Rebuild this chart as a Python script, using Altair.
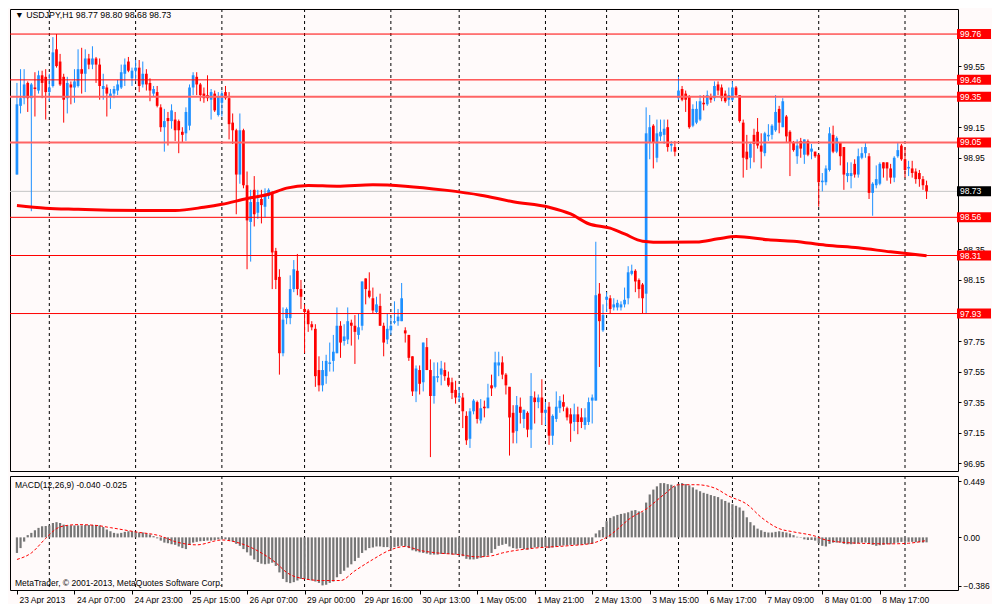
import altair as alt
import pandas as pd

# ---------------- data ----------------
SYMBOL = "USDJPY,H1"
LAST_BAR = [98.77, 98.80, 98.68, 98.73]
MACD_LAST = [-0.040, -0.025]

OPEN = [
 98.84, 99.29, 99.34, 99.44, 99.34, 99.41, 99.39, 99.49, 99.48, 99.38,
 99.42, 99.66, 99.58, 99.48, 99.34, 99.43, 99.41, 99.42, 99.53, 99.50,
 99.60, 99.56, 99.60, 99.56, 99.40, 99.41, 99.35, 99.37, 99.39, 99.41,
 99.50, 99.58, 99.47, 99.52, 99.54, 99.43, 99.50, 99.44, 99.37, 99.38,
 99.28, 99.15, 99.21, 99.19, 99.20, 99.19, 99.12, 99.11, 99.16, 99.41,
 99.48, 99.43, 99.37, 99.36, 99.33, 99.37, 99.23, 99.31, 99.38, 99.34,
 99.18, 99.13, 98.84, 99.13, 98.77, 98.53, 98.74, 98.59, 98.68, 98.63,
 98.70, 98.72, 98.34, 98.17, 97.67, 97.90, 97.90, 98.09, 98.21, 98.09,
 97.96, 97.95, 97.86, 97.83, 97.56, 97.46, 97.52, 97.60, 97.62, 97.67,
 97.85, 97.75, 97.76, 97.87, 97.85, 97.79, 97.85, 98.16, 98.08, 98.03,
 97.94, 97.98, 97.85, 97.76, 97.82, 97.87, 97.88, 97.88, 97.82, 97.79,
 97.65, 97.42, 97.56, 97.48, 97.71, 97.56, 97.39, 97.51, 97.53, 97.56,
 97.51, 97.48, 97.43, 97.38, 97.38, 97.26, 97.11, 97.29, 97.35, 97.23,
 97.32, 97.31, 97.46, 97.45, 97.59, 97.61, 97.53, 97.45, 97.28, 97.16,
 97.32, 97.24, 97.28, 97.17, 97.38, 97.35, 97.38, 97.28, 97.32, 97.13,
 97.24, 97.31, 97.35, 97.31, 97.27, 97.22, 97.27, 97.25, 97.20, 97.22,
 97.36, 97.36, 98.06, 97.82, 98.02, 98.03, 97.97, 97.97, 97.97, 97.99,
 98.03, 98.19, 98.21, 98.15, 98.12, 98.06, 99.05, 99.16, 98.95, 99.09,
 99.10, 99.15, 99.03, 99.02, 99.34, 99.40, 99.37, 99.35, 99.16, 99.18,
 99.20, 99.31, 99.30, 99.35, 99.34, 99.43, 99.41, 99.37, 99.33, 99.33,
 99.41, 99.36, 99.18, 98.99, 98.95, 99.10, 99.12, 99.03, 98.98, 99.09,
 99.10, 99.13, 99.27, 99.15, 99.22, 99.12, 99.05, 98.96, 99.06, 98.97,
 99.06, 98.99, 98.99, 98.97, 98.79, 98.79, 98.87, 99.10, 98.99, 99.05,
 99.02, 98.83, 98.83, 98.91, 98.84, 98.95, 98.98, 98.96, 98.72, 98.77,
 98.78, 98.92, 98.92, 98.88, 98.82, 98.96, 99.03, 98.94, 98.88, 98.88,
 98.86, 98.85, 98.81, 98.77]

CLOSE = [
 99.30, 99.34, 99.43, 99.34, 99.43, 99.40, 99.49, 99.44, 99.38, 99.41,
 99.64, 99.55, 99.43, 99.33, 99.44, 99.41, 99.45, 99.53, 99.50, 99.60,
 99.56, 99.60, 99.56, 99.42, 99.42, 99.37, 99.37, 99.40, 99.43, 99.51,
 99.56, 99.52, 99.52, 99.54, 99.42, 99.50, 99.43, 99.39, 99.40, 99.29,
 99.15, 99.19, 99.19, 99.26, 99.13, 99.13, 99.10, 99.25, 99.41, 99.49,
 99.43, 99.36, 99.34, 99.34, 99.38, 99.26, 99.35, 99.37, 99.34, 99.17,
 99.13, 98.84, 99.13, 98.77, 98.54, 98.66, 98.58, 98.66, 98.64, 98.70,
 98.74, 98.33, 98.15, 97.67, 97.89, 97.96, 98.09, 98.22, 98.09, 98.04,
 97.94, 97.86, 97.84, 97.52, 97.46, 97.56, 97.62, 97.61, 97.68, 97.85,
 97.74, 97.78, 97.88, 97.85, 97.81, 97.84, 98.14, 98.09, 98.04, 97.95,
 97.99, 97.85, 97.74, 97.83, 97.85, 97.88, 97.91, 98.03, 97.80, 97.64,
 97.42, 97.57, 97.47, 97.74, 97.56, 97.39, 97.52, 97.52, 97.57, 97.52,
 97.46, 97.41, 97.38, 97.39, 97.29, 97.10, 97.29, 97.36, 97.24, 97.31,
 97.31, 97.38, 97.44, 97.61, 97.61, 97.53, 97.46, 97.25, 97.15, 97.33,
 97.28, 97.30, 97.17, 97.39, 97.35, 97.38, 97.28, 97.30, 97.13, 97.26,
 97.32, 97.36, 97.32, 97.25, 97.21, 97.27, 97.22, 97.22, 97.25, 97.35,
 97.38, 98.05, 97.88, 97.92, 98.04, 97.96, 97.99, 98.00, 97.99, 98.02,
 98.20, 98.21, 98.14, 98.09, 98.03, 99.11, 99.15, 99.05, 99.11, 99.12,
 99.14, 99.02, 99.04, 98.99, 99.39, 99.33, 99.33, 99.15, 99.27, 99.27,
 99.32, 99.30, 99.36, 99.33, 99.42, 99.39, 99.34, 99.32, 99.36, 99.41,
 99.36, 99.19, 98.95, 98.94, 99.04, 99.04, 99.03, 98.99, 99.11, 99.10,
 99.16, 99.25, 99.18, 99.32, 99.09, 99.05, 99.00, 99.03, 99.01, 99.07,
 98.97, 99.01, 98.96, 98.79, 98.80, 98.88, 99.11, 98.99, 99.08, 98.96,
 98.84, 98.85, 98.85, 98.84, 98.96, 98.98, 99.02, 98.72, 98.78, 98.81,
 98.91, 98.88, 98.88, 98.82, 98.95, 99.00, 98.94, 98.87, 98.89, 98.85,
 98.81, 98.81, 98.77, 98.73]

HIGH = [
 99.44, 99.53, 99.53, 99.45, 99.44, 99.51, 99.52, 99.52, 99.53, 99.50,
 99.74, 99.76, 99.63, 99.50, 99.48, 99.45, 99.53, 99.66, 99.67, 99.66,
 99.63, 99.68, 99.61, 99.60, 99.50, 99.43, 99.40, 99.42, 99.46, 99.56,
 99.60, 99.61, 99.54, 99.59, 99.59, 99.58, 99.53, 99.47, 99.42, 99.42,
 99.30, 99.27, 99.25, 99.30, 99.25, 99.20, 99.15, 99.28, 99.43, 99.51,
 99.51, 99.44, 99.41, 99.49, 99.40, 99.39, 99.38, 99.39, 99.42, 99.38,
 99.24, 99.14, 99.24, 99.14, 98.86, 98.74, 98.83, 98.74, 98.74, 98.75,
 98.75, 98.73, 98.36, 98.22, 97.97, 97.97, 98.18, 98.28, 98.32, 98.15,
 97.99, 97.96, 97.88, 97.86, 97.65, 97.62, 97.66, 97.74, 97.79, 97.97,
 97.88, 97.86, 97.97, 97.89, 97.92, 97.93, 98.14, 98.16, 98.20, 98.10,
 98.04, 98.06, 97.87, 97.93, 97.91, 98.01, 97.96, 98.13, 97.84, 97.79,
 97.65, 97.59, 97.59, 97.74, 97.77, 97.63, 97.61, 97.61, 97.62, 97.61,
 97.55, 97.51, 97.49, 97.45, 97.41, 97.29, 97.31, 97.37, 97.36, 97.37,
 97.36, 97.47, 97.53, 97.68, 97.68, 97.65, 97.54, 97.45, 97.33, 97.39,
 97.38, 97.30, 97.29, 97.54, 97.42, 97.40, 97.50, 97.35, 97.35, 97.27,
 97.42, 97.39, 97.40, 97.32, 97.31, 97.34, 97.32, 97.31, 97.31, 97.38,
 97.40, 98.40, 98.13, 97.99, 98.07, 98.05, 98.03, 98.02, 98.01, 98.10,
 98.24, 98.25, 98.22, 98.16, 98.13, 99.28, 99.23, 99.17, 99.20, 99.20,
 99.20, 99.20, 99.06, 99.06, 99.48, 99.42, 99.39, 99.36, 99.30, 99.32,
 99.36, 99.36, 99.39, 99.37, 99.45, 99.45, 99.43, 99.39, 99.41, 99.45,
 99.42, 99.36, 99.20, 99.10, 99.05, 99.14, 99.21, 99.11, 99.12, 99.17,
 99.17, 99.36, 99.29, 99.34, 99.23, 99.13, 99.06, 99.07, 99.08, 99.07,
 99.07, 99.04, 98.99, 98.97, 98.85, 98.90, 99.15, 99.16, 99.09, 99.05,
 99.02, 98.92, 98.92, 98.94, 99.01, 99.02, 99.05, 98.98, 98.79, 98.90,
 98.92, 98.92, 98.92, 98.91, 98.96, 99.05, 99.04, 99.02, 98.93, 98.93,
 98.88, 98.87, 98.83, 98.80]

LOW = [
 98.84, 99.24, 99.30, 99.25, 98.60, 99.22, 99.37, 99.34, 99.20, 99.32,
 99.41, 99.54, 99.42, 99.18, 99.24, 99.30, 99.31, 99.41, 99.37, 99.38,
 99.53, 99.53, 99.44, 99.33, 99.33, 99.22, 99.27, 99.34, 99.36, 99.40,
 99.42, 99.51, 99.42, 99.45, 99.38, 99.41, 99.39, 99.32, 99.35, 99.28,
 99.12, 98.99, 99.03, 99.14, 99.06, 98.98, 99.05, 99.06, 99.13, 99.36,
 99.36, 99.32, 99.31, 99.32, 99.20, 99.25, 99.22, 99.22, 99.33, 99.07,
 99.04, 98.58, 98.78, 98.75, 98.22, 98.27, 98.50, 98.55, 98.52, 98.56,
 98.68, 98.09, 98.09, 97.53, 97.65, 97.86, 97.86, 98.07, 98.05, 97.96,
 97.67, 97.81, 97.82, 97.45, 97.42, 97.42, 97.47, 97.55, 97.55, 97.67,
 97.64, 97.72, 97.73, 97.72, 97.60, 97.76, 97.82, 97.99, 98.03, 97.93,
 97.93, 97.85, 97.65, 97.73, 97.79, 97.86, 97.85, 97.88, 97.74, 97.62,
 97.39, 97.35, 97.40, 97.42, 97.56, 96.99, 97.34, 97.48, 97.46, 97.49,
 97.45, 97.37, 97.34, 97.35, 97.18, 97.07, 97.05, 97.27, 97.21, 97.21,
 97.25, 97.31, 97.39, 97.44, 97.52, 97.50, 97.40, 97.00, 97.08, 97.08,
 97.21, 97.18, 97.12, 97.05, 97.21, 97.31, 97.20, 97.20, 97.07, 97.07,
 97.22, 97.28, 97.29, 97.23, 97.09, 97.16, 97.14, 97.18, 97.17, 97.20,
 97.21, 97.36, 97.58, 97.81, 97.94, 97.93, 97.95, 97.95, 97.95, 97.97,
 97.99, 98.18, 98.07, 98.03, 97.93, 97.93, 98.94, 98.88, 98.92, 99.06,
 99.04, 98.99, 98.99, 98.96, 99.33, 99.32, 99.25, 99.14, 99.15, 99.17,
 99.19, 99.26, 99.29, 99.31, 99.32, 99.36, 99.32, 99.31, 99.29, 99.32,
 99.35, 99.18, 98.82, 98.87, 98.88, 98.92, 99.01, 98.88, 98.96, 99.06,
 99.07, 99.12, 99.11, 99.15, 99.05, 98.83, 98.99, 98.91, 98.95, 98.91,
 98.96, 98.94, 98.95, 98.63, 98.73, 98.77, 98.86, 98.98, 98.98, 98.90,
 98.74, 98.79, 98.75, 98.82, 98.82, 98.94, 98.95, 98.68, 98.57, 98.75,
 98.77, 98.82, 98.80, 98.78, 98.79, 98.95, 98.93, 98.82, 98.83, 98.82,
 98.78, 98.76, 98.74, 98.68]

MACD = [
 -0.125, -0.086, -0.034, 0.018, 0.036, 0.057, 0.076, 0.089, 0.091, 0.096,
 0.115, 0.122, 0.115, 0.102, 0.096, 0.096, 0.096, 0.096, 0.096, 0.099,
 0.099, 0.099, 0.099, 0.096, 0.083, 0.063, 0.049, 0.036, 0.031, 0.036,
 0.044, 0.049, 0.049, 0.044, 0.039, 0.039, 0.031, 0.023, 0.010, -0.008,
 -0.026, -0.042, -0.047, -0.055, -0.060, -0.073, -0.086, -0.094, -0.060, -0.042,
 -0.036, -0.031, -0.029, -0.026, -0.026, -0.021, -0.016, -0.016, -0.016, -0.026,
 -0.034, -0.052, -0.068, -0.094, -0.120, -0.146, -0.177, -0.198, -0.211, -0.216,
 -0.211, -0.203, -0.229, -0.281, -0.333, -0.359, -0.367, -0.359, -0.346, -0.333,
 -0.333, -0.339, -0.346, -0.354, -0.365, -0.385, -0.380, -0.365, -0.354, -0.320,
 -0.294, -0.268, -0.242, -0.216, -0.190, -0.164, -0.125, -0.104, -0.086, -0.081,
 -0.073, -0.073, -0.078, -0.078, -0.086, -0.078, -0.073, -0.068, -0.073, -0.086,
 -0.104, -0.112, -0.120, -0.125, -0.130, -0.138, -0.138, -0.138, -0.133, -0.133,
 -0.133, -0.138, -0.138, -0.138, -0.151, -0.172, -0.177, -0.177, -0.172, -0.164,
 -0.156, -0.146, -0.125, -0.094, -0.068, -0.060, -0.052, -0.073, -0.086, -0.091,
 -0.086, -0.094, -0.099, -0.086, -0.081, -0.078, -0.081, -0.078, -0.086, -0.081,
 -0.073, -0.068, -0.065, -0.063, -0.060, -0.060, -0.060, -0.057, -0.055, -0.055,
 -0.052, 0.031, 0.057, 0.083, 0.130, 0.156, 0.169, 0.180, 0.188, 0.193,
 0.201, 0.214, 0.219, 0.208, 0.201, 0.279, 0.344, 0.383, 0.409, 0.435,
 0.435, 0.427, 0.422, 0.409, 0.430, 0.435, 0.427, 0.417, 0.401, 0.383,
 0.370, 0.357, 0.349, 0.339, 0.331, 0.323, 0.305, 0.292, 0.279, 0.266,
 0.253, 0.240, 0.214, 0.161, 0.122, 0.096, 0.070, 0.057, 0.044, 0.039,
 0.039, 0.044, 0.049, 0.044, 0.039, 0.031, 0.018, 0.005, -0.003, -0.016,
 -0.021, -0.021, -0.026, -0.047, -0.068, -0.073, -0.052, -0.042, -0.042, -0.042,
 -0.052, -0.055, -0.055, -0.052, -0.047, -0.042, -0.042, -0.052, -0.060, -0.068,
 -0.063, -0.060, -0.055, -0.055, -0.047, -0.042, -0.036, -0.036, -0.036, -0.036,
 -0.039, -0.039, -0.042, -0.040]

SIGNAL_IDX = [0, 4, 8, 11, 14, 17, 22, 26, 33, 40, 44, 50, 57, 62, 68, 72, 75, 80,
              85, 90, 94, 99, 104, 108, 112, 117, 123, 128, 132, 135, 144, 153, 160,
              164, 171, 175, 180, 184, 189, 194, 198, 203, 207, 212, 216, 222, 225,
              234, 243, 248, 253]
SIGNAL_VAL = [-0.177, -0.125, -0.008, 0.070, 0.096, 0.102, 0.096, 0.078, 0.044, 0.010,
              -0.034, -0.060, -0.021, -0.047, -0.125, -0.203, -0.281, -0.333,
              -0.346, -0.346, -0.268, -0.177, -0.099, -0.073, -0.104, -0.125, -0.138,
              -0.156, -0.148, -0.125, -0.086, -0.068, -0.047,
              0.000, 0.161, 0.227, 0.344, 0.422, 0.422, 0.396, 0.331, 0.266, 0.161,
              0.070, 0.044, 0.010, -0.021, -0.047, -0.052, -0.047, -0.025]

MA_IDX = [0, 8, 17, 26, 35, 44, 52, 57, 64, 70, 75, 81, 89, 99, 108, 119, 129, 138,
          148, 154, 159, 165, 169, 174, 180, 189, 195, 200, 209, 216, 225, 234, 243, 253]
MA_VAL = [98.637, 98.620, 98.613, 98.607, 98.605, 98.605, 98.626, 98.645, 98.683,
          98.711, 98.751, 98.768, 98.764, 98.773, 98.764, 98.738, 98.705, 98.662,
          98.626, 98.582, 98.518, 98.489, 98.451, 98.404, 98.396, 98.398, 98.419,
          98.434, 98.413, 98.404, 98.377, 98.360, 98.334, 98.309]

DAY_SEP_IDX = [9, 33, 57, 80, 104, 123, 147, 164, 184, 199, 223, 247]

TIME_LABEL_IDX = [0, 16, 32, 48, 64, 80, 96, 112, 128, 144, 160, 176, 192, 208, 224, 240]
TIME_LABELS = ["23 Apr 2013", "24 Apr 07:00", "24 Apr 23:00", "25 Apr 15:00",
               "26 Apr 07:00", "29 Apr 00:00", "29 Apr 16:00", "30 Apr 13:00",
               "1 May 05:00", "1 May 21:00", "2 May 13:00", "3 May 15:00",
               "6 May 17:00", "7 May 09:00", "8 May 01:00", "8 May 17:00"]

# price-scale labels that are not hidden behind the level boxes
PRICE_TICKS = [96.95, 97.15, 97.35, 97.55, 97.75, 98.15, 98.35,
               98.95, 99.15, 99.55]
MACD_TICKS = [-0.386, 0.0, 0.449]

LEVELS_HARD = [99.76, 99.46, 98.56, 98.31, 97.93]
LEVELS_SOFT = [99.35, 99.05]
BID = [98.73]

# ---------------- styling ----------------
BG = "#FFFAFA"
RED = "#FF0000"
SOFT_RED = "#FF6464"
BLUE = "#1E90FF"
HIST = "#767676"
FONT = "Liberation Sans"
W = 948
H_MAIN = 462
H_MACD = 114
BOX_W = 34

x_scale = alt.Scale(domain=[-0.542, 260.35], nice=False, zero=False)
y_scale = alt.Scale(domain=[96.899, 99.924], nice=False, zero=False)
m_scale = alt.Scale(domain=[-0.422, 0.492], nice=False, zero=False)

y_axis = alt.Axis(orient="right", values=PRICE_TICKS, format=".2f", title=None,
                  tickSize=3, labelPadding=2, grid=False, domain=False,
                  labelFlush=False, labelOverlap=False)
m_axis = alt.Axis(orient="right", values=MACD_TICKS, title=None, tickSize=3,
                  labelPadding=2, grid=False, domain=False, labelFlush=False,
                  labelOverlap=False,
                  labelExpr="datum.value == 0 ? '0.00' : format(datum.value, '.3f')")

expr = "''"
for i, t in zip(reversed(TIME_LABEL_IDX), reversed(TIME_LABELS)):
    expr = f"datum.value == {i} ? '{t}' : ({expr})"
x_axis = alt.Axis(orient="bottom", values=TIME_LABEL_IDX, title=None, tickSize=4,
                  labelPadding=1, labelAlign="left", labelBaseline="top",
                  labelOffset=2, grid=False, domain=False, labelFlush=False,
                  labelOverlap=False, labelExpr=expr)

n = len(CLOSE)
candles = pd.DataFrame({"idx": list(range(n)), "open": OPEN, "high": HIGH,
                        "low": LOW, "close": CLOSE})
candles["dir"] = ["up" if c >= o else "down" for o, c in zip(OPEN, CLOSE)]
sep_df = pd.DataFrame({"idx": DAY_SEP_IDX})
ma_df = pd.DataFrame({"idx": MA_IDX, "p": MA_VAL})
hard_df = pd.DataFrame({"p": LEVELS_HARD})
soft_df = pd.DataFrame({"p": LEVELS_SOFT})
bid_df = pd.DataFrame({"p": BID})
red_box_df = pd.DataFrame({"p": LEVELS_HARD + LEVELS_SOFT})
macd_df = pd.DataFrame({"idx": list(range(len(MACD))), "m": MACD})
sig_df = pd.DataFrame({"idx": SIGNAL_IDX, "m": SIGNAL_VAL})


def X(field="idx:Q", axis=None):
    return alt.X(field, scale=x_scale, axis=axis)


def Y(field):
    return alt.Y(field, scale=y_scale, axis=y_axis)


def M(field):
    return alt.Y(field, scale=m_scale, axis=m_axis)


color = alt.Color("dir:N", scale=alt.Scale(domain=["up", "down"], range=[BLUE, RED]),
                  legend=None)

sep_main = alt.Chart(sep_df).mark_rule(color="black", strokeDash=[3, 3],
                                       strokeWidth=1).encode(x=X())
bid = alt.Chart(bid_df).mark_rule(color="#C4C4C4", strokeWidth=1).encode(y=Y("p:Q"))
wicks = alt.Chart(candles).mark_rule(strokeWidth=1).encode(
    x=X(), y=Y("low:Q"), y2="high:Q", color=color)
bodies = alt.Chart(candles).mark_bar(size=2.7, orient="vertical").encode(
    x=X(), y=Y("open:Q"), y2="close:Q", color=color)
ma = alt.Chart(ma_df).mark_line(color=RED, strokeWidth=3, interpolate="monotone").encode(
    x=X(), y=Y("p:Q"))
hard = alt.Chart(hard_df).mark_rule(color=RED, strokeWidth=1).encode(y=Y("p:Q"))
soft = alt.Chart(soft_df).mark_rule(color=SOFT_RED, strokeWidth=2).encode(y=Y("p:Q"))

red_boxes = alt.Chart(red_box_df).mark_tick(
    orient="horizontal", size=BOX_W, thickness=10, color=RED, opacity=1).encode(
    x=alt.value(W - 1 + BOX_W / 2), y=Y("p:Q"))
bid_box = alt.Chart(bid_df).mark_tick(
    orient="horizontal", size=BOX_W, thickness=10, color="black", opacity=1).encode(
    x=alt.value(W - 1 + BOX_W / 2), y=Y("p:Q"))
box_text = alt.Chart(pd.DataFrame({"p": LEVELS_HARD + LEVELS_SOFT + BID})).mark_text(
    align="left", baseline="middle", color="white", fontSize=8.5, font=FONT).encode(
    x=alt.value(W + 2), y=Y("p:Q"), text=alt.Text("p:Q", format=".2f"))

title_str = "\u25BC " + SYMBOL + "  " + " ".join(f"{v:.2f}" for v in LAST_BAR)
title = alt.Chart(pd.DataFrame({"t": [title_str]})).mark_text(
    align="left", baseline="middle", fontSize=8.8, font=FONT, color="black").encode(
    x=alt.value(5), y=alt.value(6), text="t:N")

main = alt.layer(sep_main, bid, wicks, bodies, ma, hard, soft, red_boxes, bid_box,
                 box_text, title).properties(width=W, height=H_MAIN)

sep_macd = alt.Chart(sep_df).mark_rule(color="black", strokeDash=[3, 3],
                                       strokeWidth=1).encode(x=X(axis=x_axis))
hist = alt.Chart(macd_df).mark_bar(size=2.2, orient="vertical", color=HIST).encode(
    x=X(axis=x_axis), y=M("m:Q"), y2=alt.datum(0))
sig = alt.Chart(sig_df).mark_line(color=RED, strokeDash=[3, 2], strokeWidth=1,
                                  interpolate="monotone").encode(
    x=X(axis=x_axis), y=M("m:Q"))
macd_title = alt.Chart(pd.DataFrame({
    "t": [f"MACD(12,26,9) {MACD_LAST[0]:.3f} {MACD_LAST[1]:.3f}"]})).mark_text(
    align="left", baseline="middle", fontSize=8.5, font=FONT, color="black").encode(
    x=alt.value(5), y=alt.value(9), text="t:N")
copyright_ = alt.Chart(pd.DataFrame({
    "t": ["MetaTrader, \u00A9 2001-2013, MetaQuotes Software Corp."]})).mark_text(
    align="left", baseline="middle", fontSize=8.5, font=FONT, color="black").encode(
    x=alt.value(5), y=alt.value(H_MACD - 7), text="t:N")

macd = alt.layer(sep_macd, hist, sig, macd_title, copyright_).properties(
    width=W, height=H_MACD)

chart = alt.vconcat(main, macd, spacing=3).properties(
    padding={"left": 0, "top": 0, "right": 0, "bottom": 0}
).configure(background=BG).configure_view(
    stroke="black", strokeWidth=1, fill=BG
).configure_axis(
    labelFont=FONT, labelFontSize=8.5, labelColor="black", tickColor="black",
    tickWidth=1
)

chart.save("out.html", embed_options={"renderer": "svg", "actions": False})
